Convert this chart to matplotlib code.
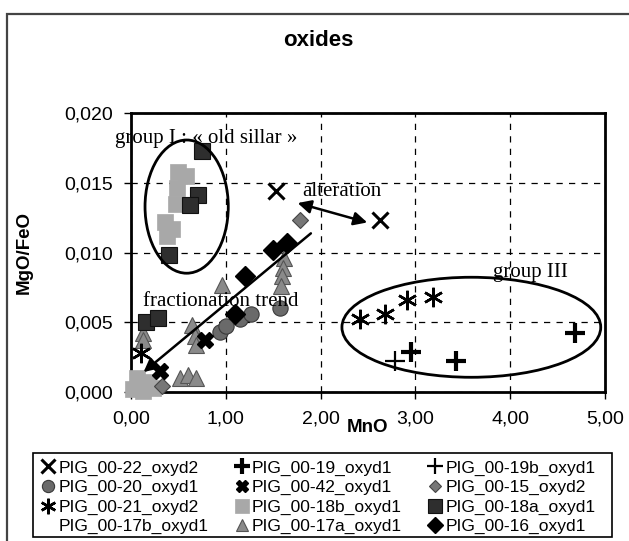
import matplotlib
matplotlib.use("Agg")
import matplotlib.pyplot as plt
from matplotlib.lines import Line2D
from matplotlib.patches import Ellipse, Rectangle

# --- data (MnO, MgO/FeO) ---
s22_x = [1.53, 2.63]
s22_y = [0.0144, 0.0123]
s19_x = [2.95, 3.43, 4.68]
s19_y = [0.0029, 0.0022, 0.0042]
s19b_x = [2.78]
s19b_y = [0.0022]
s20_x = [0.94, 1.00, 1.15, 1.27, 1.57]
s20_y = [0.0043, 0.0047, 0.0052, 0.0056, 0.0060]
s42_x = [0.78, 0.31]
s42_y = [0.0037, 0.0015]
s15_x = [1.78, 0.33]
s15_y = [0.0123, 0.0004]
s21_x = [2.42, 2.68, 2.91, 3.19, 0.11]
s21_y = [0.0052, 0.0056, 0.0066, 0.0068, 0.0028]
s18b_x = [0.50, 0.58, 0.49, 0.47, 0.36, 0.43, 0.38, 0.02, 0.07, 0.13, 0.18, 0.23, 0.06]
s18b_y = [0.0158, 0.0155, 0.0146, 0.0135, 0.0122, 0.0117, 0.0112,
          0.0002, 0.0005, 0.0001, 0.0007, 0.0003, 0.0010]
s18a_x = [0.745, 0.71, 0.62, 0.40, 0.16, 0.29]
s18a_y = [0.0173, 0.0141, 0.0134, 0.0098, 0.0050, 0.0053]
s17b_x = []
s17b_y = []
s17a_x = [0.96, 1.61, 1.60, 1.59, 1.58, 0.64, 0.67, 0.69, 0.52, 0.60, 0.69, 0.13, 0.13]
s17a_y = [0.0077, 0.0096, 0.0089, 0.0083, 0.0076, 0.0048, 0.0040, 0.0034,
          0.0010, 0.0012, 0.0010, 0.0042, 0.0037]
s16_x = [1.50, 1.65, 1.20, 1.10]
s16_y = [0.0102, 0.0107, 0.0083, 0.0056]

x_ticks = [0, 1, 2, 3, 4, 5]
x_labels = ["0,00", "1,00", "2,00", "3,00", "4,00", "5,00"]
y_ticks = [0, 0.005, 0.010, 0.015, 0.020]
y_labels = ["0,000", "0,005", "0,010", "0,015", "0,020"]

W, H = 629, 541
fig = plt.figure(figsize=(W / 100, H / 100), dpi=100)
fig.patch.set_facecolor("white")
plt.rcParams["font.family"] = ["Liberation Sans", "DejaVu Sans"]

# outer chart frame (left/top visible, rest cropped)
fig.add_artist(Rectangle((7 / W, -0.02), 1.1, 1 - 14 / H + 0.02, transform=fig.transFigure,
                         fill=False, edgecolor="#444444", lw=1.6))

ax = fig.add_axes([131 / W, 1 - 392 / H, (605 - 131) / W, (392 - 113) / H])
ax.set_xlim(0, 5)
ax.set_ylim(0, 0.020)
ax.set_xticks(x_ticks)
ax.set_xticklabels(x_labels, fontsize=14)
ax.set_yticks(y_ticks)
ax.set_yticklabels(y_labels, fontsize=14)
ax.tick_params(direction="out", length=5, width=1, pad=8)
for sp in ax.spines.values():
    sp.set_linewidth(2)
ax.grid(True, color="black", ls=(0, (5, 5)), lw=0.9)
ax.set_axisbelow(True)

fig.text(318 / W, 1 - 41 / H, "oxides", ha="center", va="center", fontsize=16, fontweight="bold")
fig.text(367 / W, 1 - 427 / H, "MnO", ha="center", va="center", fontsize=13.5, fontweight="bold")
fig.text(24 / W, 1 - 252 / H, "MgO/FeO", ha="center", va="center", rotation=90,
         fontsize=13.5, fontweight="bold")

series = [
    ("PIG_00-17a_oxyd1", s17a_x, s17a_y, dict(marker="^", ms=11, mfc="#8a8a8a", mec="#555555", mew=0.8)),
    ("PIG_00-18b_oxyd1", s18b_x, s18b_y, dict(marker="s", ms=12, mfc="#a8a8a8", mec="#a8a8a8", mew=0.5)),
    ("PIG_00-20_oxyd1", s20_x, s20_y, dict(marker="o", ms=11, mfc="#6a6a6a", mec="#3a3a3a", mew=0.8)),
    ("PIG_00-18a_oxyd1", s18a_x, s18a_y, dict(marker="s", ms=12, mfc="#2e2e2e", mec="#111111", mew=0.8)),
    ("PIG_00-16_oxyd1", s16_x, s16_y, dict(marker="D", ms=10, mfc="black", mec="black")),
    ("PIG_00-15_oxyd2", s15_x, s15_y, dict(marker="D", ms=8, mfc="#777777", mec="#444444", mew=0.8)),
    ("PIG_00-22_oxyd2", s22_x, s22_y, dict(marker="x", ms=12, mec="black", mew=2.2)),
    ("PIG_00-42_oxyd1", s42_x, s42_y, dict(marker="X", ms=11, mfc="black", mec="black")),
    ("PIG_00-21_oxyd2", s21_x, s21_y, dict(marker=(6, 2, 0), ms=14, mec="black", mew=1.8)),
    ("PIG_00-19_oxyd1", s19_x, s19_y, dict(marker="+", ms=14, mec="black", mew=3)),
    ("PIG_00-19b_oxyd1", s19b_x, s19b_y, dict(marker="+", ms=14, mec="black", mew=1.6)),
    ("PIG_00-17b_oxyd1", s17b_x, s17b_y, dict(marker="None")),
]
handles = {}
for name, xs, ys, st in series:
    (h,) = ax.plot(xs, ys, ls="none", label=name, clip_on=False, zorder=3, **st)
    handles[name] = h

# ellipses around groups
ax.add_patch(Ellipse((0.587, 0.01329), 0.878, 0.00955, fill=False, lw=2, ec="black", zorder=4))
ax.add_patch(Ellipse((3.59, 0.00464), 2.73, 0.00717, fill=False, lw=2, ec="black", zorder=4))

serif = ["Liberation Serif", "DejaVu Serif"]
ax.text(-0.17, 0.0182, "group I : \u00ab old sillar \u00bb", family=serif, fontsize=15,
        va="center", ha="left", zorder=5)
ax.text(0.13, 0.0065, "fractionation trend", family=serif, fontsize=15, va="center", ha="left", zorder=5)
ax.text(1.81, 0.0144, "alteration", family=serif, fontsize=15, va="center", ha="left", zorder=5)
ax.text(3.82, 0.0086, "group III", family=serif, fontsize=15, va="center", ha="left", zorder=5)

# arrows
ax.annotate("", xy=(0.11, 0.0013), xytext=(1.92, 0.0115),
            arrowprops=dict(arrowstyle="-|>", color="black", lw=1.8, mutation_scale=20), zorder=5)
ax.annotate("", xy=(1.73, 0.0136), xytext=(2.52, 0.0121),
            arrowprops=dict(arrowstyle="<|-|>", color="black", lw=1.8, mutation_scale=20), zorder=5)

order = ["PIG_00-22_oxyd2", "PIG_00-20_oxyd1", "PIG_00-21_oxyd2", "PIG_00-17b_oxyd1",
         "PIG_00-19_oxyd1", "PIG_00-42_oxyd1", "PIG_00-18b_oxyd1", "PIG_00-17a_oxyd1",
         "PIG_00-19b_oxyd1", "PIG_00-15_oxyd2", "PIG_00-18a_oxyd1", "PIG_00-16_oxyd1"]
leg_handles = []
for name in order:
    h = handles[name]
    leg_handles.append(Line2D([], [], ls="none", marker=h.get_marker(), ms=h.get_markersize() * 0.8,
                              mfc=h.get_markerfacecolor(), mec=h.get_markeredgecolor(),
                              mew=h.get_markeredgewidth()))
# legend box drawn separately so it can be wider than its content
fig.add_artist(Rectangle((33 / W, 1 - 537 / H), (612 - 33) / W, (537 - 453) / H,
                         transform=fig.transFigure, fill=False, edgecolor="black", lw=1.2))
leg = fig.legend(leg_handles, order, loc="upper left",
                 bbox_to_anchor=(36 / W, 1 - 455 / H),
                 ncol=3, fontsize=12.5, frameon=False,
                 handlelength=0.8, handletextpad=0.2, columnspacing=1.5, labelspacing=0.25,
                 borderpad=0.3, borderaxespad=0)

fig.savefig("out.png", dpi=100)
